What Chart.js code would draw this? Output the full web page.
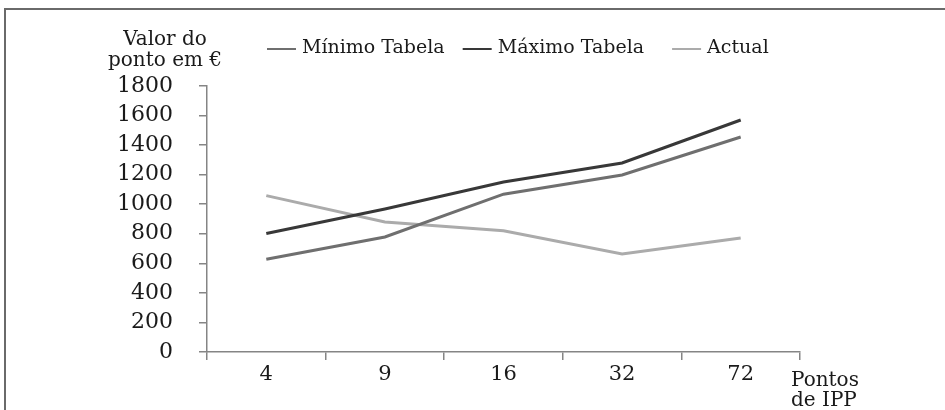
<!DOCTYPE html>
<html>
<head>
<meta charset="utf-8">
<script src="https://cdn.jsdelivr.net/npm/chart.js@4/dist/chart.umd.min.js"></script>
<style>
  html, body { margin: 0; padding: 0; background: #fff; }
  #wrap { position: absolute; left: 0; top: 0; width: 945px; height: 410px; }
  #frame { position: absolute; left: 4px; top: 8px; width: 941px; height: 402px;
           border-top: 2px solid #6a6a6a; border-left: 2px solid #6a6a6a; box-sizing: border-box; }
  canvas { position: absolute; left: 0; top: 0; }
</style>
</head>
<body>
<div id="wrap">
  <div id="frame"></div>
  <canvas id="c" width="945" height="410"></canvas>
</div>
<script>
// Pontos de IPP (categorias) e valor do ponto em euros
const categories = ['4', '9', '16', '32', '72'];
const minimoTabela = [628, 778, 1068, 1198, 1455];
const maximoTabela = [802, 968, 1150, 1279, 1570];
const actual = [1058, 880, 820, 664, 771];
const yMax = 1800;
const yStep = 200;

const seriesNames = ['Mínimo Tabela', 'Máximo Tabela', 'Actual'];
const seriesColors = ['#6f6f6f', '#383838', '#ababab'];

const FONT = '"DejaVu Serif", "Liberation Serif", serif';
const TEXT = '#1a1a1a';
const AXIS = '#858585';

// Legend along the top and the two axis captions
const captions = {
  id: 'captions',
  afterDraw(chart) {
    const ctx = chart.ctx;
    const area = chart.chartArea;
    ctx.save();
    ctx.fillStyle = TEXT;

    // y-axis caption, top left
    ctx.font = '20px ' + FONT;
    ctx.textAlign = 'center';
    ctx.textBaseline = 'middle';
    ctx.fillText('Valor do', area.left - 42, 40);
    ctx.fillText('ponto em €', area.left - 42, 61);

    // x-axis caption, bottom right
    ctx.textAlign = 'left';
    ctx.fillText('Pontos', area.right - 9, 381);
    ctx.fillText('de IPP', area.right - 9, 401);

    // legend: short line followed by the series name
    ctx.font = '19px ' + FONT;
    let x = area.left + 60;
    const y = 49;
    const gaps = [18, 28, 0];
    chart.data.datasets.forEach((ds, i) => {
      ctx.strokeStyle = ds.borderColor;
      ctx.lineWidth = 2;
      ctx.beginPath();
      ctx.moveTo(x, y);
      ctx.lineTo(x + 29, y);
      ctx.stroke();
      x += 35;
      ctx.fillStyle = TEXT;
      ctx.textBaseline = 'middle';
      ctx.fillText(ds.label, x, y - 1);
      x += ctx.measureText(ds.label).width + gaps[i];
    });
    ctx.restore();
  }
};

new Chart(document.getElementById('c'), {
  type: 'line',
  data: {
    labels: categories,
    datasets: [minimoTabela, maximoTabela, actual].map((values, i) => ({
      label: seriesNames[i],
      data: values,
      borderColor: seriesColors[i],
      backgroundColor: seriesColors[i],
      borderWidth: 3,
      pointRadius: 0,
      tension: 0,
      fill: false
    }))
  },
  options: {
    responsive: false,
    animation: false,
    events: [],
    layout: { padding: { left: 0, right: 145, top: 86, bottom: 0 } },
    plugins: { legend: { display: false }, tooltip: { enabled: false } },
    scales: {
      x: {
        offset: true,
        border: { display: true, color: AXIS, width: 1.5 },
        grid: { offset: true, drawOnChartArea: false, drawTicks: true, tickLength: 8, color: AXIS, lineWidth: 1.5 },
        ticks: { color: TEXT, font: { family: FONT, size: 21 }, padding: 2, maxRotation: 0 },
        afterFit(scale) { scale.height = 58; }
      },
      y: {
        min: 0,
        max: yMax,
        border: { display: true, color: AXIS, width: 1.5 },
        grid: { drawOnChartArea: false, drawTicks: true, tickLength: 8, color: AXIS, lineWidth: 1.5 },
        ticks: {
          stepSize: yStep, color: TEXT, font: { family: FONT, size: 22 }, padding: 26,
          callback: (v) => String(v)
        },
        afterFit(scale) { scale.width = 207; }
      }
    }
  },
  plugins: [captions]
});
</script>
</body>
</html>
